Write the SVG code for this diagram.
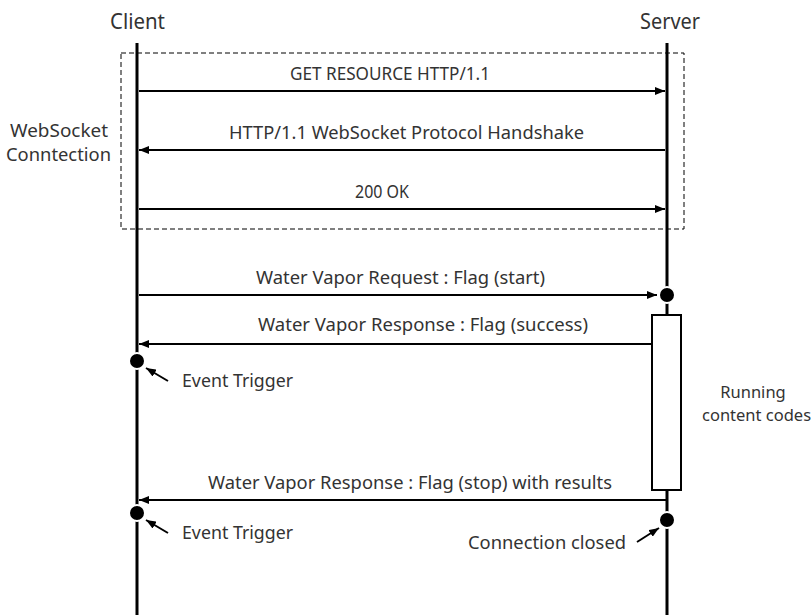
<svg xmlns="http://www.w3.org/2000/svg" width="811" height="615" viewBox="0 0 811 615">
<style>
.t{font-family:"Noto Sans","Open Sans","Liberation Sans",sans-serif;fill:#333;font-size:18px}
.h{font-size:21px}
.ll{stroke:#000;stroke-width:3;fill:none}
.msg{stroke:#000;stroke-width:2;fill:none}
.dot{fill:#000;stroke:#fff;stroke-width:2}
</style>
<defs>
<marker id="ah" markerWidth="10" markerHeight="8" refX="10" refY="4" orient="auto" markerUnits="userSpaceOnUse">
<path d="M0,0 L10,4 L0,8 z" fill="#000"/>
</marker>
</defs>
<rect width="811" height="615" fill="#fff"/>
<g id="frame">
<rect x="121" y="53" width="563" height="176" fill="none" stroke="#000" stroke-width="1" stroke-dasharray="5,3"/>
<text class="t" x="10" y="137" textLength="98" lengthAdjust="spacingAndGlyphs">WebSocket</text>
<text class="t" x="6" y="161" textLength="105" lengthAdjust="spacingAndGlyphs">Conntection</text>
</g>
<g id="client">
<text class="t h" x="110" y="29" textLength="55" lengthAdjust="spacingAndGlyphs">Client</text>
<line class="ll" x1="137" y1="43" x2="137" y2="615"/>
</g>
<g id="server">
<text class="t h" x="640" y="29" textLength="60" lengthAdjust="spacingAndGlyphs">Server</text>
<line class="ll" x1="667" y1="43" x2="667" y2="615"/>
</g>
<g id="activation">
<rect x="652" y="315" width="29" height="175" fill="#fff" stroke="#000" stroke-width="2"/>
<text class="t" x="753" y="398" style="font-size:16.5px" text-anchor="middle">Running</text>
<text class="t" x="702" y="421" style="font-size:16.5px">content codes</text>
</g>
<g id="connectors">
<line class="msg" x1="139" y1="91" x2="665" y2="91" marker-end="url(#ah)"/>
<text class="t" x="290" y="80" textLength="200" lengthAdjust="spacingAndGlyphs">GET RESOURCE HTTP/1.1</text>
<line class="msg" x1="665" y1="150" x2="139" y2="150" marker-end="url(#ah)"/>
<text class="t" x="229" y="139" textLength="355" lengthAdjust="spacingAndGlyphs">HTTP/1.1 WebSocket Protocol Handshake</text>
<line class="msg" x1="139" y1="209" x2="665" y2="209" marker-end="url(#ah)"/>
<text class="t" x="355" y="198" textLength="54" lengthAdjust="spacingAndGlyphs">200 OK</text>
<line class="msg" x1="139" y1="295" x2="657" y2="295" marker-end="url(#ah)"/>
<text class="t" x="256" y="284" textLength="289" lengthAdjust="spacingAndGlyphs">Water Vapor Request : Flag (start)</text>
<line class="msg" x1="652" y1="344" x2="139" y2="344" marker-end="url(#ah)"/>
<text class="t" x="258" y="331" textLength="330" lengthAdjust="spacingAndGlyphs">Water Vapor Response : Flag (success)</text>
<line class="msg" x1="667" y1="500" x2="139" y2="500" marker-end="url(#ah)"/>
<text class="t" x="208" y="489" textLength="404" lengthAdjust="spacingAndGlyphs">Water Vapor Response : Flag (stop) with results</text>
<line class="msg" x1="168" y1="381" x2="146" y2="368" marker-end="url(#ah)"/>
<line class="msg" x1="168" y1="533" x2="146" y2="520" marker-end="url(#ah)"/>
<line class="msg" x1="637" y1="542" x2="659" y2="528" marker-end="url(#ah)"/>
</g>
<g id="events">
<circle class="dot" cx="667" cy="295" r="8"/>
<circle class="dot" cx="137" cy="361" r="8"/>
<text class="t" x="182" y="387" textLength="111" lengthAdjust="spacingAndGlyphs">Event Trigger</text>
<circle class="dot" cx="137" cy="513" r="8"/>
<text class="t" x="182" y="539" textLength="111" lengthAdjust="spacingAndGlyphs">Event Trigger</text>
<circle class="dot" cx="667" cy="520" r="8"/>
<text class="t" x="468" y="549" textLength="158" lengthAdjust="spacingAndGlyphs">Connection closed</text>
</g>
</svg>
